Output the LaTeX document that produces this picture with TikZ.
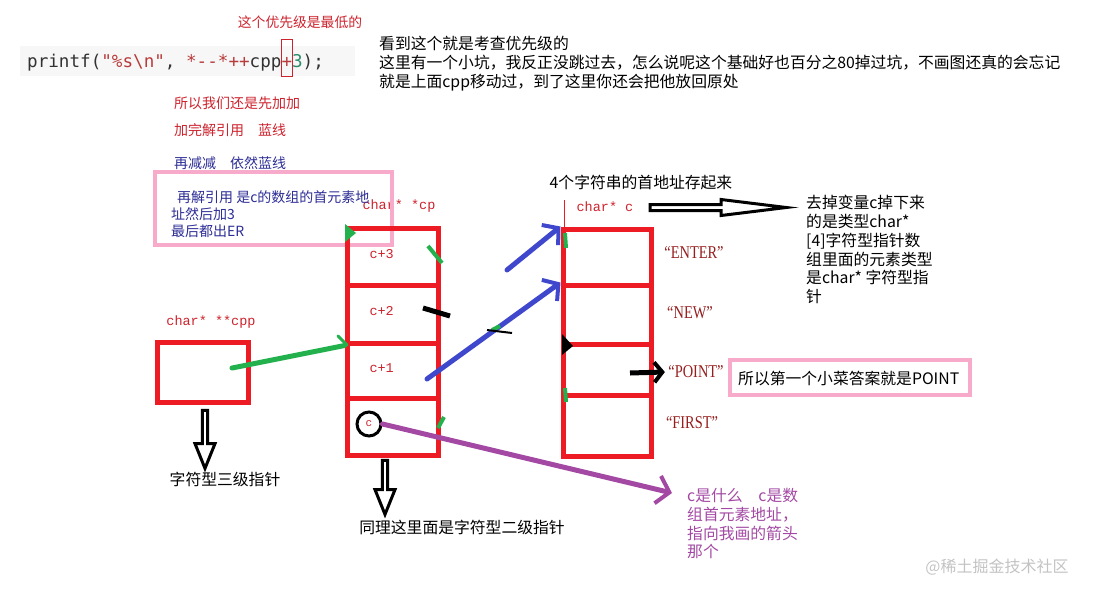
\documentclass[tikz,border=0pt]{standalone}
\usepackage{fontspec}
\setmainfont{Noto Sans CJK SC}
\newfontfamily\codefont{DejaVu Sans Mono}
\newfontfamily\labfont{Liberation Mono}
\newfontfamily\strfont[FakeStretch=0.8]{Liberation Serif}
\usetikzlibrary{positioning,shapes,arrows.meta}

\definecolor{boxred}{RGB}{237,28,36}
\definecolor{notered}{RGB}{205,35,45}
\definecolor{strred}{RGB}{150,30,30}
\definecolor{notenavy}{RGB}{45,45,150}
\definecolor{pinkline}{RGB}{248,170,202}
\definecolor{penblue}{RGB}{63,72,204}
\definecolor{pengreen}{RGB}{34,177,76}
\definecolor{penpurple}{RGB}{163,73,164}
\definecolor{codebg}{RGB}{247,247,247}
\definecolor{codedark}{RGB}{50,50,50}
\definecolor{codered}{RGB}{185,60,60}
\definecolor{codeteal}{RGB}{45,140,110}
\definecolor{wmgray}{RGB}{195,195,195}

\newcommand{\cjksize}{\fontsize{15.8}{18.8}\selectfont}
\newcommand{\smallcjk}{\fontsize{14}{17}\selectfont}

\begin{document}
\begin{tikzpicture}[x=1pt,y=-1pt,
  cell/.style={draw=boxred,line width=5pt,inner sep=0pt},
  cplab/.style={font=\labfont\fontsize{13.5}{14}\selectfont,text=notered},
  strlab/.style={font=\strfont\fontsize{18}{18}\selectfont,text=strred},
  blacknote/.style={font=\cjksize,align=left,inner sep=0pt},
  rednote/.style={font=\smallcjk,text=notered,inner sep=0pt},
  hollow/.style={single arrow,draw=black,fill=white,line width=3pt,inner sep=0pt},
  pinkbox/.style={draw=pinkline,line width=4pt,inner sep=0pt},
  bluepen/.style={draw=penblue,line width=5pt,line cap=round,
    -{Straight Barb[length=11pt,width=26pt,line width=4pt]}},
  greenpen/.style={draw=pengreen,line width=5pt,line cap=round},
  purplepen/.style={draw=penpurple,line width=5pt,line cap=round,
    -{Straight Barb[length=12pt,width=28pt,line width=4pt]}},
  blackpen/.style={draw=black,line width=5pt,
    -{Straight Barb[length=8pt,width=20pt,line width=4pt]}}]

\useasboundingbox (0,0) rectangle (1096,595);

% Column positions
\def\colCPP{202.5}
\def\colCP{392.5}
\def\colC{607}

% code line and the red box round the '+'
\fill[codebg] (20,46) rectangle (355,76);
\node[anchor=base west,inner sep=0pt,font=\codefont\fontsize{17.6}{18}\selectfont] (code) at (27,67)
  {{\color{codedark}printf(}{\color{codered}"\%s\textbackslash n"}{\color{codedark}, }{\color{codered}*-{}-*++}{\color{codedark}cpp}{\color{codered}+}{\color{codeteal}3}{\color{codedark});}};
\node[draw=notered,line width=1pt,minimum width=11pt,minimum height=37pt,inner sep=0pt] (plusmark) at (287,58) {};
\node[rednote,font=\fontsize{13.8}{16}\selectfont] (lowest) at (300,22) {这个优先级是最低的};

% notes at the top right
\node[blacknote,anchor=north west] (topnote) at (379,36)
  {看到这个就是考查优先级的\\
   这里有一个小坑，我反正没跳过去，怎么说呢这个基础好也百分之80掉过坑，不画图还真的会忘记\\
   就是上面cpp移动过，到了这里你还会把他放回原处};

% steps on the left
\node[rednote,anchor=west] (step1) at (174,103) {所以我们还是先加加};
\node[rednote,anchor=west] (step2) at (174,130) {加完解引用　蓝线};
\node[rednote,anchor=west,text=notenavy] (step3) at (174,163) {再减减　依然蓝线};

% labels above the boxes
\node[cplab] (cpplab) at (211,322) {char* **cpp};
\node[cplab] (cplab) at (399,206) {char* *cp};
\node[cplab] (clab) at (605,207) {char* c};

% pink box with the last step
\node[pinkbox,minimum width=237pt,minimum height=73pt] (stepbox) at (273.5,208.5) {};
\node[font=\smallcjk,text=notenavy,align=left,anchor=north west,inner sep=0pt] (step4) at (171,190)
  {\hspace{6pt}再解引用 是c的数组的首元素地\\址然后加3\\最后都出ER};

% char** cpp
\node[cell,minimum width=91pt,minimum height=60pt] (cpp) at (\colCPP,372) {};

% char* cp[4]
\node[cell,minimum width=91pt,minimum height=57pt] (cp3) at (\colCP,256.5) {};
\node[cell,minimum width=91pt,minimum height=58pt] (cp2) at (\colCP,314) {};
\node[cell,minimum width=91pt,minimum height=55pt] (cp1) at (\colCP,370.5) {};
\node[cell,minimum width=91pt,minimum height=57pt] (cp0) at (\colCP,426.5) {};
\node[cplab,anchor=west] at (366,254) {c+3};
\node[cplab,anchor=west] at (366,311) {c+2};
\node[cplab,anchor=west] at (366,368) {c+1};
\node[circle,draw=black,line width=3pt,minimum size=24pt,inner sep=0pt,
  font=\labfont\fontsize{11}{12}\selectfont,text=notered] (cdot) at (369,424) {c};

% char* c[4]
\draw[boxred,line width=1pt] (564,200) -- (564,228);
\node[cell,minimum width=88pt,minimum height=56pt] (cs0) at (\colC,257) {};
\node[cell,minimum width=88pt,minimum height=59pt] (cs1) at (\colC,314.5) {};
\node[cell,minimum width=88pt,minimum height=51pt] (cs2) at (\colC,369.5) {};
\node[cell,minimum width=88pt,minimum height=61pt] (cs3) at (\colC,425.5) {};
\node[strlab] (sEnter) at (694,253) {“ENTER”};
\node[strlab] (sNew) at (690,313) {“NEW”};
\node[strlab] (sPoint) at (696,372) {“POINT”};
\node[strlab] (sFirst) at (692,423) {“FIRST”};
\node[blacknote] (fourstr) at (641,182) {4个字符串的首地址存起来};

% hollow arrows
\node[hollow,minimum height=136pt,minimum width=16pt,single arrow head extend=2.5pt,
  single arrow tip angle=14] (typearrow) at (706,207.5) {};
\node[hollow,minimum height=58pt,minimum width=20pt,single arrow head extend=4pt,
  single arrow tip angle=44,shape border rotate=270] (cpparrow) at (205,436) {};
\node[hollow,minimum height=54pt,minimum width=20pt,single arrow head extend=4pt,
  single arrow tip angle=44,shape border rotate=270] (cparrow) at (385,484) {};

\node[blacknote] (lvl3) at (225,479) {字符型三级指针};
\node[blacknote] (lvl2) at (462,527) {同理这里面是字符型二级指针};
\node[blacknote,anchor=north west] (typenote) at (806,195)
  {去掉变量c掉下来\\的是类型char*\\{[4]}字符型指针数\\组里面的元素类型\\是char* 字符型指\\针};

% answer
\node[pinkbox,minimum width=240pt,minimum height=35pt] (answerbox) at (850,377.5) {};
\node[blacknote,anchor=west] (answer) at (738,378) {所以第一个小菜答案就是POINT};

% what c is
\node[blacknote,anchor=north west,text=penpurple] (cnote) at (687,488)
  {c是什么　c是数\\组首元素地址，\\指向我画的箭头\\那个};

% pen strokes
\coordinate (cppdot) at (232,368);
\coordinate (blueA) at (427,379);
\coordinate (blueB) at (507,270);
\coordinate (ptip) at (672,493);
\coordinate (pointfrom) at (630,373);

\draw[greenpen] (cppdot) -- ([yshift=-5pt]cp1.north west);
\draw[greenpen,line width=3pt] (338,336) -- (347,345);
\draw[bluepen] (blueA) -- (cs1.north west);
\draw[bluepen] (blueB) -- (cs0.north west);
\draw[purplepen] (cdot.east) -- (ptip);
\draw[blackpen] (pointfrom) -- (sPoint.west);

% leftover scribbles
\fill[pengreen] (345,224) -- (356,233) -- (345,242) -- cycle;
\draw[pengreen,line width=4pt] (428,246) -- (442,263);
\draw[pengreen,line width=4pt] (438,428) -- (444,417);
\draw[pengreen,line width=4pt] (565,233) -- (566,248);
\draw[pengreen,line width=4pt] (565,388) -- (566,402);
\draw[pengreen,line width=4pt] (492,330) -- (500,326);
\draw[black,line width=5pt] (423,308) -- (450,316);
\draw[black,line width=2pt] (487,330) -- (512,333);
\fill[black] (562,334) -- (573,346) -- (562,355) -- cycle;

\node[font=\fontsize{16}{18}\selectfont,text=wmgray] (mark) at (997,567) {@稀土掘金技术社区};

\end{tikzpicture}
\end{document}
